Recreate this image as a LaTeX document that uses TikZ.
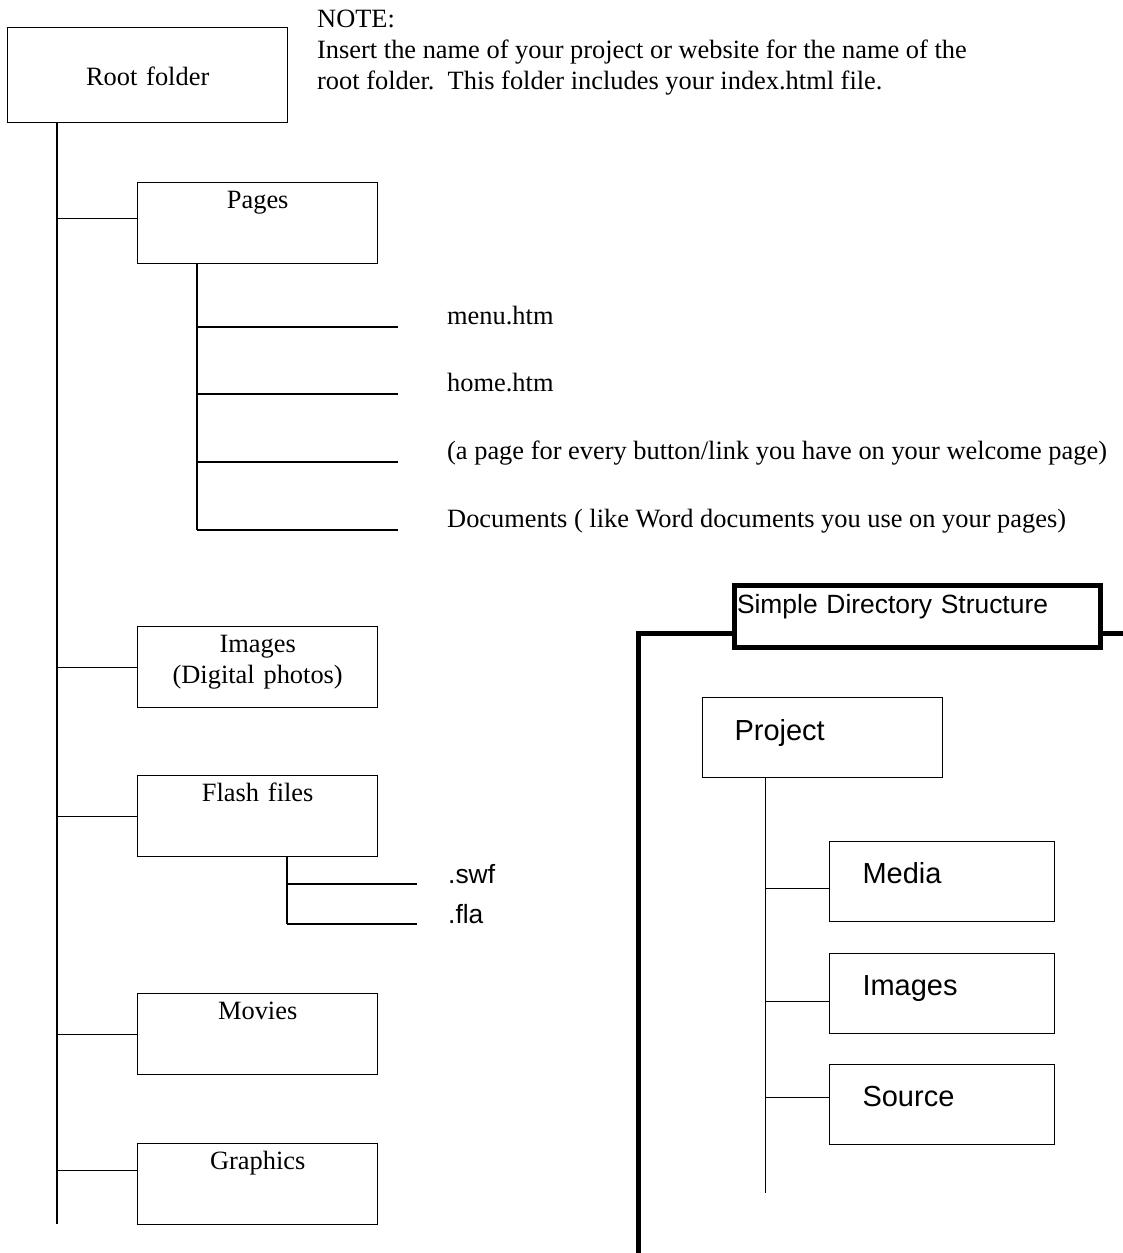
\documentclass[tikz,border=0pt]{standalone}
\usepackage{fontspec}
\setmainfont{Liberation Serif}
\newfontfamily\arialfont{Liberation Sans}
\newcommand{\tms}{\fontsize{26.4}{31}\selectfont}
\newcommand{\arl}{\arialfont\fontsize{26.4}{31}\selectfont}
\newcommand{\arlb}{\arialfont\fontsize{29}{34}\selectfont}

\tikzset{
  tree/.style={line width=1.2pt},
  folder/.style={draw, line width=1.4pt, anchor=north west, inner sep=0pt,
    align=center, font=\tms, text width=240pt, text height=26pt, text depth=55pt},
  file/.style={anchor=base west, inner sep=0pt, font=\tms},
  ext/.style={anchor=base west, inner sep=0pt, font=\arl},
  frame/.style={line width=5pt},
  sdir/.style={draw, line width=1pt, anchor=north west, inner ysep=0pt, inner xsep=33pt,
    align=left, font=\arlb, text width=159pt, text height=42pt, text depth=38pt},
}

\begin{document}
\begin{tikzpicture}[x=1pt,y=-1pt]
 %  \draw[gray] (0,0) rectangle (1123,1253);
   \useasboundingbox (0,0) rectangle (1123,1253);
   % left tree
   \node[folder, text width=280pt, text height=58pt, text depth=37pt] (root) at (7,27) {Root folder};
   \node[anchor=base west, inner sep=0pt, font=\tms] (note) at (317,27)
     {\begin{tabular}[t]{@{}l@{}}NOTE:\\Insert the name of your project or website for the name of the\\root folder.\ \ This folder includes your index.html file.\end{tabular}};
   \node[folder] (pages)    at (137, 182) {Pages};
   \node[folder] (imgs)     at (137, 626) {Images\\(Digital photos)};
   \node[folder] (flash)    at (137, 775) {Flash files};
   \node[folder] (movies)   at (137, 993) {Movies};
   \node[folder] (graphics) at (137,1143) {Graphics};
   \coordinate (trunktop) at ([xshift=50pt]root.south west);
   \coordinate (trunkend) at (57,1224);
   \draw[tree] (trunktop) -- (trunkend);
   \foreach \n/\dy in {pages/4.5,imgs/0,flash/0,movies/0,graphics/13.5}{
     \coordinate (c) at ([yshift=\dy pt]\n.west);
     \draw[tree] (c) -- (c -| trunktop);
   }
   \node[file] (menu)  at (447,324) {menu.htm};
   \node[file] (home)  at (447,391) {home.htm};
   \node[file] (every) at (447,459) {(a page for every button/link you have on your welcome page)};
   \node[file] (docs)  at (447,527) {Documents ( like Word documents you use on your pages)};
   \coordinate (pgtrunk) at ([xshift=60pt]pages.south west);
   \draw[tree] (pgtrunk |- docs.base) ++(0,3) -- (pgtrunk);
   \foreach \n in {menu,home,every,docs}
     \draw[tree] (pgtrunk |- \n.base) ++(0,3) -- ++(201,0);
   \node[ext] (swf) at (448,883) {.swf};
   \node[ext] (fla) at (448,923) {.fla};
   \coordinate (fltrunk) at ([xshift=150pt]flash.south west);
   \draw[tree] (fltrunk |- fla.base) ++(0,1) -- (fltrunk);
   \foreach \n in {swf,fla}
     \draw[tree] (fltrunk |- \n.base) ++(0,1) -- ++(130,0);
   % simple directory structure
   \node[draw, frame, anchor=north west, inner xsep=2.5pt, inner ysep=0pt, text width=361pt,
     align=left, font=\arl, text height=27.5pt, text depth=34.5pt] (title) at (732,583)
     {Simple Directory Structure};
   \coordinate (fcorner) at (638,633);
   \draw[frame] (638,1260) -- (fcorner) -- (fcorner -| title.west);
   \draw[frame] (fcorner -| title.east) -- (1130,633);
   \node[sdir, inner xsep=32pt, text width=176pt, text height=43pt, text depth=37pt] (project) at (702,697) {Project};
   \node[sdir] (media)  at (829, 841) {Media};
   \node[sdir] (rimgs)  at (829, 953) {Images};
   \node[sdir] (source) at (829,1064) {Source};
   \coordinate (pjtrunk) at ([xshift=63pt]project.south west);
   \coordinate (pjend) at (765,1193);
   \draw[line width=1pt] (pjtrunk) -- (pjend);
   \foreach \n/\dy in {media/-7,rimgs/-8,source/7.5}{
     \coordinate (c) at ([yshift=\dy pt]\n.west);
     \draw[line width=1pt] (c) -- (c -| pjtrunk);
   }
\end{tikzpicture}
\end{document}
